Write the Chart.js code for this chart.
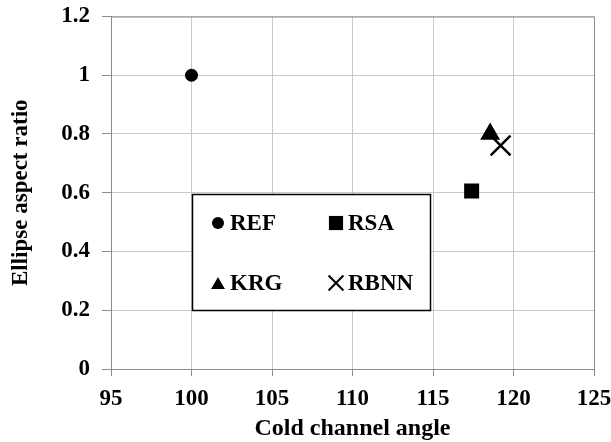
<!DOCTYPE html>
<html>
<head>
<meta charset="utf-8">
<script src="https://cdn.jsdelivr.net/npm/chart.js@4/dist/chart.umd.min.js"></script>
<style>
html,body{margin:0;padding:0;background:#fff;}
#wrap{width:611px;height:442px;}
</style>
</head>
<body>
<div id="wrap"><canvas id="c" width="611" height="442"></canvas></div>
<script>
const seriesNames = ['REF', 'RSA', 'KRG', 'RBNN'];
const xValues = [100, 117.4, 118.55, 119.2];
const yValues = [1.0, 0.606, 0.80, 0.761];
const markerStyles = ['circle', 'rect', 'triangle', 'crossRot'];
const markerRadii = [6.5, 10.6, 11.5, 14];
const legendRadii = [6, 10, 8, 10.5];
const xTicks = [95, 100, 105, 110, 115, 120, 125];
const yTicks = [0, 0.2, 0.4, 0.6, 0.8, 1, 1.2];
const xTitle = 'Cold channel angle';
const yTitle = 'Ellipse aspect ratio';

const FONT = "'Liberation Serif', 'Times New Roman', serif";

const datasets = seriesNames.map((n, i) => ({
  label: n,
  data: [{x: xValues[i], y: yValues[i]}],
  pointStyle: markerStyles[i],
  pointRadius: markerRadii[i],
  pointBackgroundColor: '#000',
  pointBorderColor: '#000',
  pointBorderWidth: markerStyles[i] === 'crossRot' ? 2.5 : 0,
  showLine: false
}));

const framePlugin = {
  id: 'frame',
  beforeDatasetsDraw(chart) {
    const {ctx, chartArea: a} = chart;
    ctx.save();
    ctx.strokeStyle = '#8c8c8c';
    ctx.lineWidth = 1;
    ctx.beginPath();
    ctx.moveTo(a.left, a.top + 0.5);
    ctx.lineTo(a.right + 0.5, a.top + 0.5);
    ctx.lineTo(a.right + 0.5, a.bottom);
    ctx.stroke();
    ctx.restore();
  },
  afterDatasetsDraw(chart) {
    const {ctx} = chart;
    ctx.save();
    const bx = 192.5, by = 194.5, bw = 238, bh = 116;
    ctx.fillStyle = '#fff';
    ctx.fillRect(bx, by, bw, bh);
    ctx.strokeStyle = '#000';
    ctx.lineWidth = 1.5;
    ctx.strokeRect(bx, by, bw, bh);
    const cols = [218, 336];
    const rows = [223, 283];
    ctx.font = "bold 23px " + FONT;
    ctx.textBaseline = 'middle';
    ctx.textAlign = 'left';
    seriesNames.forEach((n, i) => {
      const mx = cols[i % 2], my = rows[Math.floor(i / 2)];
      ctx.fillStyle = '#000';
      ctx.strokeStyle = '#000';
      const isCross = markerStyles[i] === 'crossRot';
      ctx.lineWidth = isCross ? 2 : 0;
      Chart.helpers.drawPoint(ctx, {
        pointStyle: markerStyles[i],
        radius: legendRadii[i],
        rotation: 0,
        borderWidth: isCross ? 2 : 0
      }, mx, my + (markerStyles[i] === 'triangle' ? 2 : 0));
      ctx.fillStyle = '#000';
      ctx.fillText(n, mx + 12, my + 1);
    });
    ctx.restore();
  }
};

new Chart(document.getElementById('c'), {
  type: 'scatter',
  data: {datasets},
  options: {
    responsive: false,
    animation: false,
    events: [],
    layout: {padding: {left: 0, right: 17, top: 16, bottom: 0}},
    plugins: {legend: {display: false}, tooltip: {enabled: false}},
    scales: {
      x: {
        type: 'linear',
        min: xTicks[0],
        max: xTicks[xTicks.length - 1],
        afterBuildTicks(s) { s.ticks = xTicks.map(v => ({value: v})); },
        afterFit(s) { s.height = 73; s.paddingLeft = 0; s.paddingRight = 0; },
        ticks: {color: '#000', font: {family: FONT, size: 23, weight: 'bold'}, padding: 9, maxRotation: 0, autoSkip: false},
        grid: {color: '#c8c8c8', lineWidth: 1, tickLength: 7, tickColor: '#8c8c8c'},
        border: {color: '#8c8c8c', width: 1},
        title: {display: true, text: xTitle, color: '#000', font: {family: FONT, size: 24, weight: 'bold', lineHeight: 1.0}, padding: {top: 0, bottom: 1}}
      },
      y: {
        type: 'linear',
        min: yTicks[0],
        max: yTicks[yTicks.length - 1],
        afterBuildTicks(s) { s.ticks = yTicks.map(v => ({value: v})); },
        afterFit(s) { s.width = 111; s.paddingTop = 0; s.paddingBottom = 0; },
        ticks: {color: '#000', font: {family: FONT, size: 23, weight: 'bold'}, padding: 12, callback: v => String(v)},
        grid: {color: '#c8c8c8', lineWidth: 1, tickLength: 9, tickColor: '#8c8c8c'},
        border: {color: '#8c8c8c', width: 1},
        title: {display: true, text: yTitle, color: '#000', font: {family: FONT, size: 23, weight: 'bold'}, padding: {top: 7, bottom: 0}}
      }
    }
  },
  plugins: [framePlugin]
});
</script>
</body>
</html>
